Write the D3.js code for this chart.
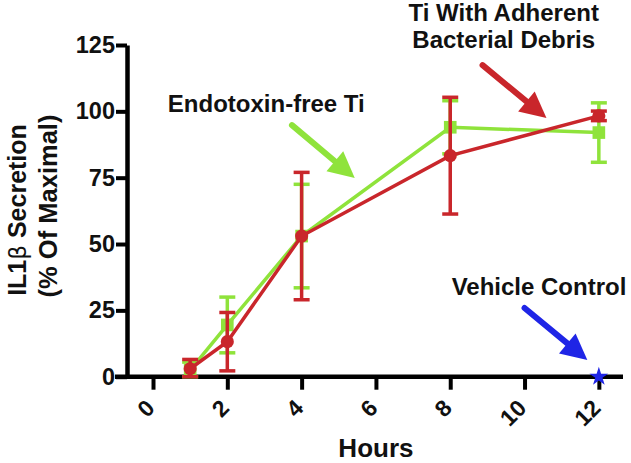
<!DOCTYPE html>
<html>
<head>
<meta charset="utf-8">
<script src="https://cdn.jsdelivr.net/npm/d3@7"></script>
<style>
  body { margin: 0; background: #fff; }
  text { font-family: "Liberation Sans", Arial, sans-serif; font-weight: bold; fill: #111; }
</style>
</head>
<body>
<div class="layout"></div>
<script>
// data
var hours = [1, 2, 4, 8, 12];
var tiFree = [2.5, 19.5, 53, 94, 92];          // Endotoxin-free Ti (green squares)
var tiFreeErr = [3, 10.5, 19.5, 10, 11.2];
var tiDebris = [3, 13.2, 53, 83.3, 98.3];      // Ti with adherent bacterial debris (red circles)
var tiDebrisErr = [3.5, 11, 24, 22, 1.8];
var vehicleHours = [12];
var vehicle = [0];
var xTicks = [0, 2, 4, 6, 8, 10, 12];
var yTicks = [0, 25, 50, 75, 100, 125];

var green = "#8fe33b", red = "#c9262b", blue = "#1f25e6";

var W = 631, H = 463;
var svg = d3.select(".layout").append("svg")
    .attr("width", W)
    .attr("height", H);

var x = d3.scaleLinear().domain([-0.7, 12.65]).range([127, 623]);
var y = d3.scaleLinear().domain([0, 125]).range([376.7, 45]);

// y axis
var yAxis = d3.axisLeft(y).tickValues(yTicks).tickSize(11).tickPadding(1).tickSizeOuter(0);
var gy = svg.append("g")
    .attr("transform", "translate(" + x(-0.7) + ",0)")
    .call(yAxis);
gy.select(".domain").attr("stroke", "#000").attr("stroke-width", 4.5);
gy.selectAll(".tick line").attr("stroke", "#000").attr("stroke-width", 4);
gy.selectAll(".tick text")
    .attr("font-size", 23.5)
    .attr("font-family", "Liberation Sans, Arial, sans-serif")
    .attr("font-weight", "bold")
    .attr("fill", "#111");

// x axis
var xAxis = d3.axisBottom(x).tickValues(xTicks).tickSize(13).tickSizeOuter(0).tickFormat(d3.format("d"));
var gx = svg.append("g")
    .attr("transform", "translate(0," + y(0) + ")")
    .call(xAxis);
gx.select(".domain").attr("stroke", "#000").attr("stroke-width", 4.5)
    .attr("d", "M" + (x(-0.7) - 12) + ",0H" + x(12.65));
gx.selectAll(".tick line").attr("stroke", "#000").attr("stroke-width", 4);
gx.selectAll(".tick text")
    .attr("font-size", 23)
    .attr("font-family", "Liberation Sans, Arial, sans-serif")
    .attr("font-weight", "bold")
    .attr("fill", "#111")
    .attr("y", 0).attr("dy", null)
    .attr("text-anchor", "end")
    .attr("dominant-baseline", "central")
    .attr("transform", "translate(-3,27) rotate(-45)");

// axis titles
svg.append("text")
    .attr("x", x(6))
    .attr("y", 457)
    .attr("text-anchor", "middle")
    .attr("font-size", 26)
    .text("Hours");

var yt = svg.append("text")
    .attr("transform", "translate(26,210) rotate(-90)")
    .attr("text-anchor", "middle")
    .attr("font-size", 25);
yt.append("tspan").text("IL1");
yt.append("tspan").attr("font-weight", "normal").attr("font-family", "DejaVu Sans").attr("font-size", 23).text("β");
yt.append("tspan").text(" Secretion");
svg.append("text")
    .attr("transform", "translate(57,206) rotate(-90)")
    .attr("text-anchor", "middle")
    .attr("font-size", 25.5)
    .text("(% Of Maximal)");

function series(vals, errs, color, shape) {
    var pts = hours.map(function(h, i) { return { h: h, v: vals[i], e: errs[i] }; });
    var g = svg.append("g");
    var bars = g.selectAll(".err").data(pts).enter().append("g");
    bars.append("line")
        .attr("x1", function(d) { return x(d.h); }).attr("x2", function(d) { return x(d.h); })
        .attr("y1", function(d) { return y(Math.max(0, d.v - d.e)); })
        .attr("y2", function(d) { return y(d.v + d.e); })
        .attr("stroke", color).attr("stroke-width", 3.5);
    [1, -1].forEach(function(s) {
        bars.append("line")
            .attr("x1", function(d) { return x(d.h) - 8; }).attr("x2", function(d) { return x(d.h) + 8; })
            .attr("y1", function(d) { return y(Math.max(0, d.v + s * d.e)); })
            .attr("y2", function(d) { return y(Math.max(0, d.v + s * d.e)); })
            .attr("stroke", color).attr("stroke-width", 3.5);
    });
    g.append("path")
        .datum(pts)
        .attr("fill", "none")
        .attr("stroke", color)
        .attr("stroke-width", 3.5)
        .attr("d", d3.line().x(function(d) { return x(d.h); }).y(function(d) { return y(d.v); }));
    g.selectAll(".pt").data(pts).enter().append("path")
        .attr("transform", function(d) { return "translate(" + x(d.h) + "," + y(d.v) + ")"; })
        .attr("fill", color)
        .attr("d", d3.symbol().type(shape).size(shape === d3.symbolSquare ? 160 : 135));
}

series(tiFree, tiFreeErr, green, d3.symbolSquare);
series(tiDebris, tiDebrisErr, red, d3.symbolCircle);

// vehicle control
svg.selectAll(".veh").data(vehicleHours).enter().append("path")
    .attr("transform", function(d, i) { return "translate(" + x(d) + "," + y(vehicle[i]) + ")"; })
    .attr("fill", blue)
    .attr("d", d3.symbol().type(d3.symbolStar).size(110));

// annotations (in data units)
function arrow(x0, y0, x1, y1, color) {
    var px0 = x(x0), py0 = y(y0), px1 = x(x1), py1 = y(y1);
    var a = Math.atan2(py1 - py0, px1 - px0);
    var len = 26, hw = 13;
    var bx = px1 - len * Math.cos(a), by = py1 - len * Math.sin(a);
    svg.append("line")
        .attr("x1", px0).attr("y1", py0).attr("x2", bx).attr("y2", by)
        .attr("stroke", color).attr("stroke-width", 6).attr("stroke-linecap", "round");
    svg.append("path")
        .attr("fill", color)
        .attr("d", "M" + px1 + "," + py1 +
            "L" + (bx + hw * Math.sin(a)) + "," + (by - hw * Math.cos(a)) +
            "L" + (bx - hw * Math.sin(a)) + "," + (by + hw * Math.cos(a)) + "Z");
}

arrow(3.74, 94.8, 5.43, 74.9, green);
arrow(8.87, 117.4, 10.59, 97.5, red);
arrow(10.0, 25.9, 11.69, 6.3, blue);

svg.append("text").attr("x", x(0.4)).attr("y", y(99.7)).attr("font-size", 24).text("Endotoxin-free Ti");
svg.append("text").attr("x", x(9.44)).attr("y", y(134)).attr("font-size", 24).attr("text-anchor", "middle").text("Ti With Adherent");
svg.append("text").attr("x", x(9.44)).attr("y", y(123.8)).attr("font-size", 24).attr("text-anchor", "middle").text("Bacterial Debris");
svg.append("text").attr("x", x(12.74)).attr("y", y(30.8)).attr("font-size", 24).attr("text-anchor", "end").text("Vehicle Control");
</script>
</body>
</html>
